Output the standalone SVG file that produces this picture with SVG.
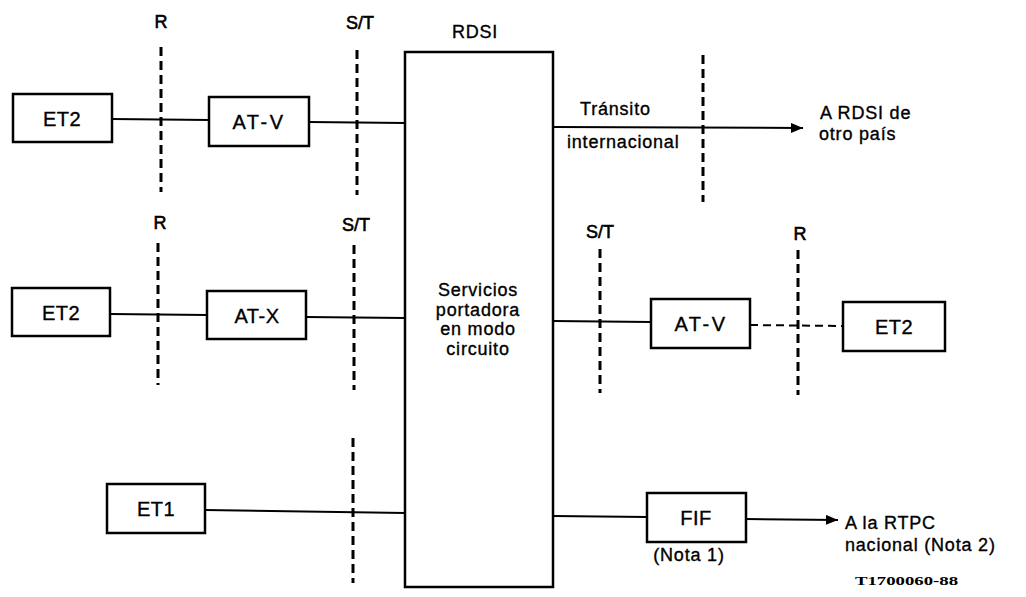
<svg xmlns="http://www.w3.org/2000/svg" width="1026" height="597" viewBox="0 0 1026 597">
<defs>
<marker id="arr" viewBox="0 0 12 10" refX="12" refY="5" markerWidth="12" markerHeight="10" markerUnits="userSpaceOnUse" orient="auto">
<path d="M0,0 L12,5 L0,10 Z" fill="#000"/>
</marker>
</defs>
<style>
.box{fill:#fff;stroke:#000;stroke-width:2.5}
.ln{stroke:#000;stroke-width:2;fill:none}
.ref{stroke:#000;stroke-width:3;stroke-dasharray:9 5;fill:none}
.dl{stroke:#000;stroke-width:2;stroke-dasharray:8 5;fill:none}
text{font-family:"Liberation Sans",Arial,sans-serif;fill:#000;stroke:#000;stroke-width:0.35}
.bl{font-size:20px;text-anchor:middle;letter-spacing:0.5px}
.lb{font-size:18px;letter-spacing:0.8px}
.rl{font-size:18px;text-anchor:middle;stroke-width:0.6}
.code{font-family:"Liberation Serif","Times New Roman",serif;font-size:12px;font-weight:bold;stroke-width:0}
</style>
<rect width="1026" height="597" fill="#fff"/>

<g id="reference-points">
<line class="ref" x1="161" y1="47" x2="161" y2="192"/>
<line class="ref" x1="357" y1="50" x2="357" y2="195"/>
<line class="ref" x1="703" y1="55" x2="703" y2="202"/>
<line class="ref" x1="158" y1="243" x2="158" y2="385"/>
<line class="ref" x1="354" y1="245" x2="354" y2="390"/>
<line class="ref" x1="600" y1="249" x2="600" y2="393"/>
<line class="ref" x1="798" y1="250" x2="798" y2="395"/>
<line class="ref" x1="353" y1="438" x2="353" y2="583"/>
<text class="rl" x="161" y="28">R</text>
<text class="rl" x="360" y="29">S/T</text>
<text class="rl" x="160" y="229">R</text>
<text class="rl" x="356" y="231">S/T</text>
<text class="rl" x="600" y="238">S/T</text>
<text class="rl" x="800" y="240">R</text>
</g>

<g id="connectors">
<line class="ln" x1="112" y1="119" x2="209" y2="120"/>
<line class="ln" x1="309" y1="122" x2="405" y2="123"/>
<line class="ln" x1="553" y1="127" x2="803" y2="128" marker-end="url(#arr)"/>
<line class="ln" x1="110" y1="314" x2="207" y2="315"/>
<line class="ln" x1="306" y1="317" x2="405" y2="318"/>
<line class="ln" x1="553" y1="321" x2="651" y2="322"/>
<line class="dl" x1="750" y1="325" x2="843" y2="326"/>
<line class="ln" x1="205" y1="510" x2="405" y2="513"/>
<line class="ln" x1="553" y1="516" x2="647" y2="517"/>
<line class="ln" x1="746" y1="519" x2="838" y2="520" marker-end="url(#arr)"/>
</g>

<g id="rdsi">
<rect class="box" x="405" y="52" width="148" height="535"/>
<text class="lb" x="475" y="38" text-anchor="middle">RDSI</text>
<text class="lb" x="478" y="296" text-anchor="middle">Servicios</text>
<text class="lb" x="478" y="315.5" text-anchor="middle">portadora</text>
<text class="lb" x="478" y="335" text-anchor="middle">en modo</text>
<text class="lb" x="478" y="354.5" text-anchor="middle">circuito</text>
</g>

<g id="et2-top">
<rect class="box" x="13" y="94" width="99" height="48"/>
<text class="bl" x="62" y="126">ET2</text>
</g>
<g id="atv-top">
<rect class="box" x="209" y="97" width="100" height="49"/>
<text class="bl" x="259" y="129" style="letter-spacing:2.5px">AT-V</text>
</g>
<g id="et2-mid">
<rect class="box" x="12" y="288" width="98" height="48"/>
<text class="bl" x="61" y="320">ET2</text>
</g>
<g id="atx">
<rect class="box" x="207" y="291" width="99" height="48"/>
<text class="bl" x="257" y="323">AT-X</text>
</g>
<g id="atv-right">
<rect class="box" x="651" y="299" width="99" height="49"/>
<text class="bl" x="701" y="331" style="letter-spacing:2.5px">AT-V</text>
</g>
<g id="et2-right">
<rect class="box" x="843" y="302" width="102" height="49"/>
<text class="bl" x="894" y="334">ET2</text>
</g>
<g id="et1">
<rect class="box" x="107" y="484" width="98" height="49"/>
<text class="bl" x="156" y="516">ET1</text>
</g>
<g id="fif">
<rect class="box" x="647" y="493" width="99" height="49"/>
<text class="bl" x="696" y="525">FIF</text>
<text class="lb" x="689" y="561" text-anchor="middle">(Nota 1)</text>
</g>

<g id="labels">
<text class="lb" x="580" y="115">Tránsito</text>
<text class="lb" x="567" y="148">internacional</text>
<text class="lb" x="820" y="119">A RDSI de</text>
<text class="lb" x="819" y="140">otro país</text>
<text class="lb" x="845" y="529">A la RTPC</text>
<text class="lb" x="845" y="551">nacional (Nota 2)</text>
<text class="code" x="855" y="585" textLength="103" lengthAdjust="spacingAndGlyphs">T1700060-88</text>
</g>
</svg>
